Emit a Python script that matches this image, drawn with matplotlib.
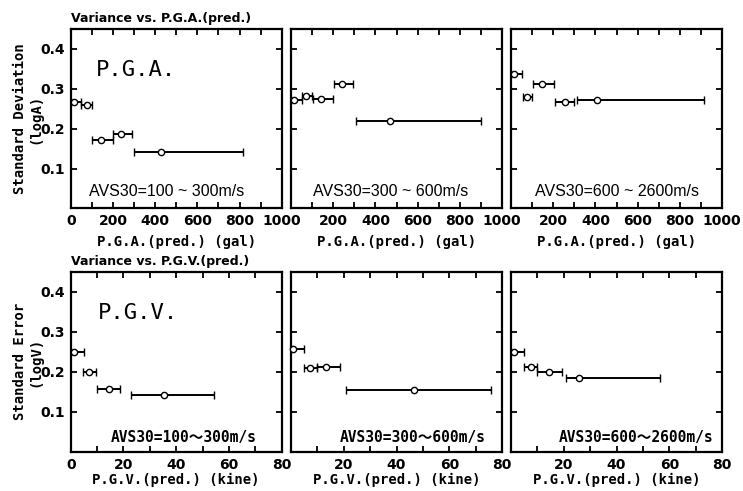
import numpy as np
import matplotlib.pyplot as plt
from matplotlib.ticker import MultipleLocator

# P.G.A. panels (gal): centre, bin low, bin high, std. deviation
pga_x = [[16, 75, 144, 238, 427],
         [16, 70, 144, 243, 471],
         [16, 74, 145, 257, 408]]
pga_lo = [[0, 51, 101, 201, 300],
          [0, 51, 106, 204, 307],
          [0, 58, 103, 209, 312]]
pga_hi = [[51, 101, 201, 292, 816],
          [51, 101, 200, 295, 899],
          [51, 101, 204, 299, 915]]
pga_sd = [[0.266, 0.260, 0.172, 0.187, 0.142],
          [0.273, 0.283, 0.274, 0.311, 0.220],
          [0.337, 0.280, 0.312, 0.267, 0.272]]

# P.G.V. panels (kine)
pgv_x = [[1.3, 6.9, 14.6, 35.2],
         [0.9, 7.2, 13.3, 46.5],
         [1.25, 7.4, 14.4, 25.8]]
pgv_lo = [[0, 4.7, 10.0, 23.0],
          [0, 4.9, 9.7, 20.7],
          [0, 4.9, 10.0, 20.7]]
pgv_hi = [[5.2, 9.7, 18.6, 54.2],
          [4.9, 9.7, 18.5, 75.7],
          [4.9, 9.7, 19.5, 56.5]]
pgv_se = [[0.250, 0.200, 0.158, 0.142],
          [0.256, 0.209, 0.212, 0.154],
          [0.250, 0.211, 0.200, 0.185]]

avs_top = ["AVS30=100 ~ 300m/s", "AVS30=300 ~ 600m/s", "AVS30=600 ~ 2600m/s"]
avs_bot = ["AVS30=100\u301c300m/s", "AVS30=300\u301c600m/s",
           "AVS30=600\u301c2600m/s"]

MONO = ['DejaVu Sans Mono', 'Noto Sans CJK JP']
NARROW = ['Liberation Sans Narrow', 'Liberation Sans', 'DejaVu Sans']

fig = plt.figure(figsize=(7.43, 4.91), dpi=100)
lefts = [0.0952, 0.3917, 0.6878]
w = 0.284
avs_top_x = [0.455, 0.47, 0.5]
avs_bot_x = [0.883, 0.92, 0.959]


def style(ax, xmax, xmajor, xminor, first):
    ax.set_xlim(0, xmax)
    ax.set_ylim(0, 0.45)
    ax.xaxis.set_major_locator(MultipleLocator(xmajor))
    ax.xaxis.set_minor_locator(MultipleLocator(xminor))
    ax.tick_params(which='both', direction='in', top=True, right=True,
                   length=4, width=1.3, labelsize=10, pad=4)
    ticks = np.arange(0, xmax + 1, xmajor)
    labels = ['%d' % t for t in ticks]
    if not first:
        labels[0] = ''
    ax.set_xticks(ticks)
    ax.set_xticklabels(labels, fontweight='bold')
    ax.set_yticks([0.1, 0.2, 0.3, 0.4])
    if first:
        ax.set_yticklabels(['0.1', '0.2', '0.3', '0.4'], fontweight='bold')
    else:
        ax.set_yticklabels([])
    for s in ax.spines.values():
        s.set_linewidth(1.6)


def draw(ax, x, lo, hi, y):
    x = np.array(x)
    err = [x - np.array(lo), np.array(hi) - x]
    ax.errorbar(x, y, xerr=err, fmt='o', ms=4.5, mfc='white', mec='black',
                mew=1.0, ecolor='black', elinewidth=1.4, capsize=3,
                capthick=1.4, clip_on=False, zorder=3)


for i in range(3):
    ax = fig.add_axes([lefts[i], 0.5754, w, 0.3656])
    draw(ax, pga_x[i], pga_lo[i], pga_hi[i], pga_sd[i])
    style(ax, 1000, 200, 100, i == 0)
    ax.set_xlabel("P.G.A.(pred.) (gal)", family=MONO, fontweight='bold',
                  fontsize=10, labelpad=5)
    ax.text(avs_top_x[i], 0.092, avs_top[i], transform=ax.transAxes,
            ha='center', va='center', family=NARROW, fontsize=11.5)
    if i == 0:
        ax.text(0.12, 0.77, "P.G.A.", transform=ax.transAxes, family=MONO,
                fontsize=16, va='center')
        ax.set_ylabel("Standard Deviation\n(logA)", family=MONO,
                      fontweight='bold', fontsize=10, linespacing=1.1)
        ax.yaxis.set_label_coords(-0.135, 0.5)

    ax = fig.add_axes([lefts[i], 0.0794, w, 0.3676])
    draw(ax, pgv_x[i], pgv_lo[i], pgv_hi[i], pgv_se[i])
    style(ax, 80, 20, 10, i == 0)
    ax.set_xlabel("P.G.V.(pred.) (kine)", family=MONO, fontweight='bold',
                  fontsize=10, labelpad=1)
    ax.text(avs_bot_x[i], 0.078, avs_bot[i], transform=ax.transAxes,
            ha='right', va='center', family=MONO, fontweight='bold',
            fontsize=10.5)
    if i == 0:
        ax.text(0.13, 0.77, "P.G.V.", transform=ax.transAxes, family=MONO,
                fontsize=16, va='center')
        ax.set_ylabel("Standard Error\n(logV)", family=MONO,
                      fontweight='bold', fontsize=10, linespacing=1.1)
        ax.yaxis.set_label_coords(-0.135, 0.5)

fig.text(0.095, 0.963, "Variance vs. P.G.A.(pred.)", fontsize=9,
         fontweight='bold', va='center')
fig.text(0.095, 0.467, "Variance vs. P.G.V.(pred.)", fontsize=9,
         fontweight='bold', va='center')

fig.savefig("out.png", dpi=100)
